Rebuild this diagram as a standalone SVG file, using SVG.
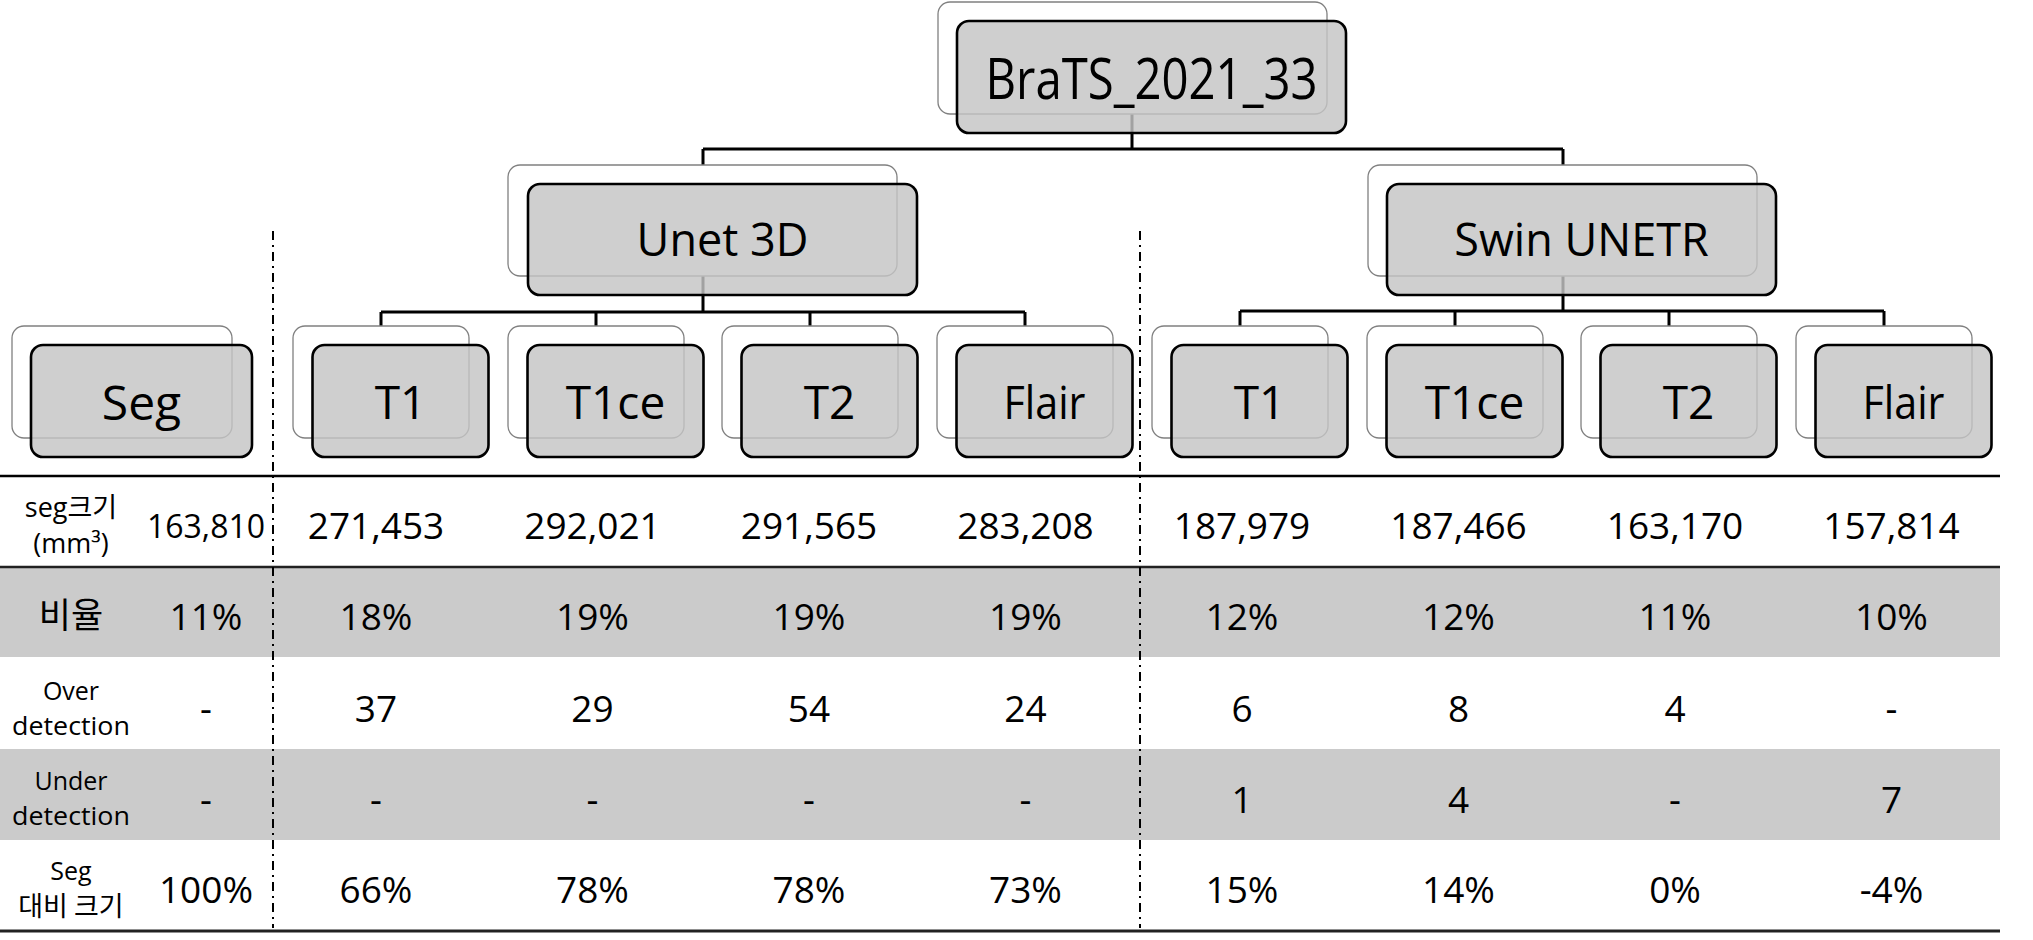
<svg xmlns="http://www.w3.org/2000/svg" width="2033" height="940" viewBox="0 0 2033 940">
<style>
text{font-family:"Open Sans","Noto Sans CJK KR",sans-serif;fill:#000;text-anchor:middle}
.back{fill:#fff;stroke:#808080;stroke-width:1.3}
.front{fill:#c4c4c4;fill-opacity:0.82;stroke:#000;stroke-width:2.6}
.conn{stroke:#000;stroke-width:3;fill:none}
.big{font-size:57px}
.mid{font-size:45px}
.leaf{font-size:46px}
.val{font-size:37px}
.lab{font-size:27px}
.lab2{font-size:25px}
.ko{font-family:"Noto Sans CJK KR",sans-serif}
.band{fill:#cbcbcb}
.dd{stroke:#000;stroke-width:2;stroke-dasharray:9 5 2 5;fill:none}
</style>
<rect width="2033" height="940" fill="#fff"/>
<g id="table-bands">
<rect class="band" x="0" y="567" width="2000" height="90"/>
<rect class="band" x="0" y="749" width="2000" height="91"/>
</g>
<g id="table-lines">
<line x1="0" y1="476" x2="2000" y2="476" stroke="#000" stroke-width="2.5"/>
<line x1="0" y1="567" x2="2000" y2="567" stroke="#222" stroke-width="2.5"/>
<line x1="0" y1="931" x2="2000" y2="931" stroke="#222" stroke-width="3"/>
</g>
<g id="separators">
<line class="dd" x1="273" y1="231" x2="273" y2="928"/>
<line class="dd" x1="1140" y1="231" x2="1140" y2="928"/>
</g>
<g id="connectors">
<path class="conn" d="M1132 114V149M703 149H1563M703 149V165M1563 149V165"/>
<path class="conn" d="M703 276V312M381 312H1025M381 312V326M596 312V326M810 312V326M1025 312V326"/>
<path class="conn" d="M1563 276V311M1240 311H1884M1240 311V326M1455 311V326M1669 311V326M1884 311V326"/>
</g>
<g id="node-root">
<rect class="back" x="938" y="2" width="389" height="112" rx="12"/>
<rect class="front" x="957" y="21" width="389" height="112" rx="12"/>
<text class="big" x="1151.5" y="99" textLength="332" lengthAdjust="spacingAndGlyphs">BraTS_2021_33</text>
</g>
<g id="node-unet3d">
<rect class="back" x="508" y="165" width="389" height="111" rx="12"/>
<rect class="front" x="528" y="184" width="389" height="111" rx="12"/>
<text class="mid" x="722.5" y="256">Unet 3D</text>
</g>
<g id="node-swinunetr">
<rect class="back" x="1368" y="165" width="389" height="111" rx="12"/>
<rect class="front" x="1387" y="184" width="389" height="111" rx="12"/>
<text class="mid" x="1581.5" y="256">Swin UNETR</text>
</g>
<g id="node-seg">
<rect class="back" x="12" y="326" width="220" height="112" rx="12"/>
<rect class="front" x="31" y="345" width="221" height="112" rx="12"/>
<text class="leaf" x="141.5" y="420" style="font-size:48px">Seg</text>
</g>
<g id="node-unet-t1">
<rect class="back" x="293" y="326" width="176" height="112" rx="12"/>
<rect class="front" x="312.5" y="345" width="176" height="112" rx="12"/>
<text class="leaf" x="400.5" y="419">T1</text>
</g>
<g id="node-unet-t1ce">
<rect class="back" x="508" y="326" width="176" height="112" rx="12"/>
<rect class="front" x="527.5" y="345" width="176" height="112" rx="12"/>
<text class="leaf" x="615.5" y="419">T1ce</text>
</g>
<g id="node-unet-t2">
<rect class="back" x="722" y="326" width="176" height="112" rx="12"/>
<rect class="front" x="741.5" y="345" width="176" height="112" rx="12"/>
<text class="leaf" x="829.5" y="419">T2</text>
</g>
<g id="node-unet-flair">
<rect class="back" x="937" y="326" width="176" height="112" rx="12"/>
<rect class="front" x="956.5" y="345" width="176" height="112" rx="12"/>
<text class="leaf" x="1044.5" y="419" textLength="82" lengthAdjust="spacingAndGlyphs">Flair</text>
</g>
<g id="node-swin-t1">
<rect class="back" x="1152" y="326" width="176" height="112" rx="12"/>
<rect class="front" x="1171.5" y="345" width="176" height="112" rx="12"/>
<text class="leaf" x="1259.5" y="419">T1</text>
</g>
<g id="node-swin-t1ce">
<rect class="back" x="1367" y="326" width="176" height="112" rx="12"/>
<rect class="front" x="1386.5" y="345" width="176" height="112" rx="12"/>
<text class="leaf" x="1474.5" y="419">T1ce</text>
</g>
<g id="node-swin-t2">
<rect class="back" x="1581" y="326" width="176" height="112" rx="12"/>
<rect class="front" x="1600.5" y="345" width="176" height="112" rx="12"/>
<text class="leaf" x="1688.5" y="419">T2</text>
</g>
<g id="node-swin-flair">
<rect class="back" x="1796" y="326" width="176" height="112" rx="12"/>
<rect class="front" x="1815.5" y="345" width="176" height="112" rx="12"/>
<text class="leaf" x="1903.5" y="419" textLength="82" lengthAdjust="spacingAndGlyphs">Flair</text>
</g>
<g id="row-labels">
<text class="lab" x="71" y="517">seg<tspan class="ko">크기</tspan></text>
<text class="lab" x="71" y="553">(mm³)</text>
<text class="ko" x="71" y="628" style="font-size:35px">비율</text>
<text class="lab2" x="71" y="700">Over</text>
<text class="lab2" x="71" y="735" textLength="118" lengthAdjust="spacingAndGlyphs">detection</text>
<text class="lab2" x="71" y="790">Under</text>
<text class="lab2" x="71" y="825" textLength="118" lengthAdjust="spacingAndGlyphs">detection</text>
<text class="lab2" x="71" y="880">Seg</text>
<text class="lab ko" x="71" y="916">대비 크기</text>
</g>
<g id="col-seg">
<text class="val" x="206" y="538" style="font-size:32px">163,810</text>
<text class="val" x="206" y="630">11%</text>
<text class="val" x="206" y="722">-</text>
<text class="val" x="206" y="813">-</text>
<text class="val" x="206" y="903">100%</text>
</g>
<g id="col-unet-t1">
<text class="val" x="376" y="539">271,453</text>
<text class="val" x="376" y="630">18%</text>
<text class="val" x="376" y="722">37</text>
<text class="val" x="376" y="813">-</text>
<text class="val" x="376" y="903">66%</text>
</g>
<g id="col-unet-t1ce">
<text class="val" x="592.5" y="539">292,021</text>
<text class="val" x="592.5" y="630">19%</text>
<text class="val" x="592.5" y="722">29</text>
<text class="val" x="592.5" y="813">-</text>
<text class="val" x="592.5" y="903">78%</text>
</g>
<g id="col-unet-t2">
<text class="val" x="809" y="539">291,565</text>
<text class="val" x="809" y="630">19%</text>
<text class="val" x="809" y="722">54</text>
<text class="val" x="809" y="813">-</text>
<text class="val" x="809" y="903">78%</text>
</g>
<g id="col-unet-flair">
<text class="val" x="1025.5" y="539">283,208</text>
<text class="val" x="1025.5" y="630">19%</text>
<text class="val" x="1025.5" y="722">24</text>
<text class="val" x="1025.5" y="813">-</text>
<text class="val" x="1025.5" y="903">73%</text>
</g>
<g id="col-swin-t1">
<text class="val" x="1242" y="539">187,979</text>
<text class="val" x="1242" y="630">12%</text>
<text class="val" x="1242" y="722">6</text>
<text class="val" x="1242" y="813">1</text>
<text class="val" x="1242" y="903">15%</text>
</g>
<g id="col-swin-t1ce">
<text class="val" x="1458.5" y="539">187,466</text>
<text class="val" x="1458.5" y="630">12%</text>
<text class="val" x="1458.5" y="722">8</text>
<text class="val" x="1458.5" y="813">4</text>
<text class="val" x="1458.5" y="903">14%</text>
</g>
<g id="col-swin-t2">
<text class="val" x="1675" y="539">163,170</text>
<text class="val" x="1675" y="630">11%</text>
<text class="val" x="1675" y="722">4</text>
<text class="val" x="1675" y="813">-</text>
<text class="val" x="1675" y="903">0%</text>
</g>
<g id="col-swin-flair">
<text class="val" x="1891.5" y="539">157,814</text>
<text class="val" x="1891.5" y="630">10%</text>
<text class="val" x="1891.5" y="722">-</text>
<text class="val" x="1891.5" y="813">7</text>
<text class="val" x="1891.5" y="903">-4%</text>
</g>
</svg>
